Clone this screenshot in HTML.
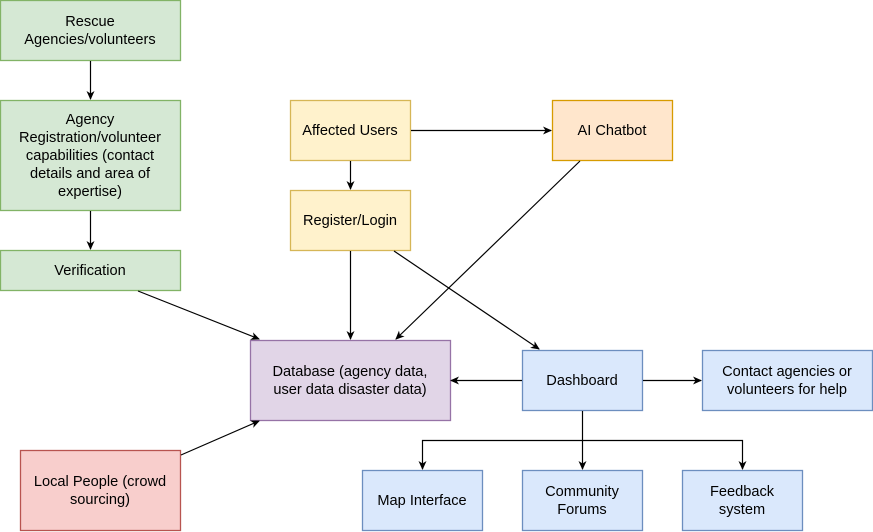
<!DOCTYPE html>
<html><head><meta charset="utf-8"><style>
html,body{margin:0;padding:0;background:#fff;}
svg{display:block}
text{font-family:"Liberation Sans",Arial,sans-serif;font-size:14.6px;fill:#000;text-anchor:middle}
</style></head><body>
<svg width="873" height="532" viewBox="0 0 873 532" xmlns="http://www.w3.org/2000/svg">
<defs>
<marker id="a" markerWidth="10" markerHeight="10" refX="8" refY="5" orient="auto" markerUnits="userSpaceOnUse">
<path d="M0,1 L9,5 L0,9 L2.5,5 Z" fill="#000"/>
</marker>
</defs>
<g stroke-width="1.3">
<rect x="0.5" y="0.5" width="180" height="60" fill="#d5e8d4" stroke="#82b366"/>
<rect x="0.5" y="100.5" width="180" height="110" fill="#d5e8d4" stroke="#82b366"/>
<rect x="0.5" y="250.5" width="180" height="40" fill="#d5e8d4" stroke="#82b366"/>
<rect x="290.5" y="100.5" width="120" height="60" fill="#fff2cc" stroke="#d6b656"/>
<rect x="290.5" y="190.5" width="120" height="60" fill="#fff2cc" stroke="#d6b656"/>
<rect x="552.5" y="100.5" width="120" height="60" fill="#ffe6cc" stroke="#d79b00"/>
<rect x="250.5" y="340.5" width="200" height="80" fill="#e1d5e7" stroke="#9673a6"/>
<rect x="522.5" y="350.5" width="120" height="60" fill="#dae8fc" stroke="#6c8ebf"/>
<rect x="702.5" y="350.5" width="170" height="60" fill="#dae8fc" stroke="#6c8ebf"/>
<rect x="20.5" y="450.5" width="160" height="80" fill="#f8cecc" stroke="#b85450"/>
<rect x="362.5" y="470.5" width="120" height="60" fill="#dae8fc" stroke="#6c8ebf"/>
<rect x="522.5" y="470.5" width="120" height="60" fill="#dae8fc" stroke="#6c8ebf"/>
<rect x="682.5" y="470.5" width="120" height="60" fill="#dae8fc" stroke="#6c8ebf"/>
</g>
<g stroke="#000" stroke-width="1.2" fill="none" marker-end="url(#a)">
<path d="M90.5,61 V99"/>
<path d="M90.5,211 V249"/>
<path d="M138,291 L259,339"/>
<path d="M181,455 L259,421"/>
<path d="M350.5,161 V189"/>
<path d="M411,130.5 H551"/>
<path d="M350.5,251 V339"/>
<path d="M580,161 L396,339"/>
<path d="M394,251 L539,349"/>
<path d="M522,380.5 H451"/>
<path d="M643,380.5 H701"/>
<path d="M582.5,411 V469"/>
<path d="M582.5,440.5 H422.5 V469"/>
<path d="M582.5,440.5 H742.5 V469"/>
</g>
<text x="90" y="26">Rescue</text>
<text x="90" y="44">Agencies/volunteers</text>
<text x="90" y="124">Agency</text>
<text x="90" y="142">Registration/volunteer</text>
<text x="90" y="160">capabilities (contact</text>
<text x="90" y="178">details and area of</text>
<text x="90" y="196">expertise)</text>
<text x="90" y="275">Verification</text>
<text x="350" y="135">Affected Users</text>
<text x="612" y="135">AI Chatbot</text>
<text x="350" y="225">Register/Login</text>
<text x="350" y="376">Database (agency data,</text>
<text x="350" y="394">user data disaster data)</text>
<text x="582" y="385">Dashboard</text>
<text x="787" y="376">Contact agencies or</text>
<text x="787" y="394">volunteers for help</text>
<text x="100" y="486">Local People (crowd</text>
<text x="100" y="504">sourcing)</text>
<text x="422" y="505">Map Interface</text>
<text x="582" y="496">Community</text>
<text x="582" y="514">Forums</text>
<text x="742" y="496">Feedback</text>
<text x="742" y="514">system</text>
</svg>
</body></html>
